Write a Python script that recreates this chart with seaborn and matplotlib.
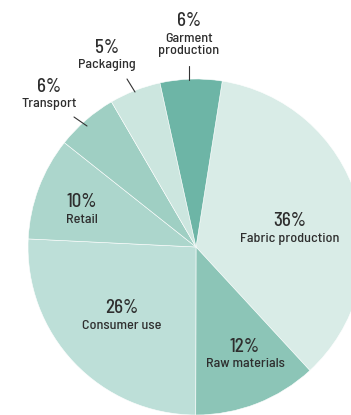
import matplotlib
matplotlib.use("Agg")
import matplotlib.pyplot as plt
import seaborn as sns

sns.set_theme(style="white")
plt.rcParams["font.family"] = ["Barlow Semi Condensed", "DejaVu Sans"]

# Share of emissions by life-cycle stage, listed clockwise from the top
stages = ["Fabric production", "Raw materials", "Consumer use", "Retail",
          "Transport", "Packaging", "Garment\nproduction"]
shares = [36, 12, 26, 10, 6, 5, 6]
colors = ["#d9ece7", "#8cc5b7", "#bddfd8", "#acd6cc",
          "#9fcfc3", "#cce6df", "#6db5a6"]

W, H = 351, 415
fig = plt.figure(figsize=(W / 100, H / 100), dpi=100)
ax = fig.add_axes([0, 0, 1, 1])
ax.set_aspect("equal")
ax.axis("off")

cx, cy, R = 196, 247, 168
# drawn in a y-down frame, so a counter-clockwise pie appears clockwise
wedges, _ = ax.pie(shares, colors=colors, center=(cx, cy), radius=R,
                   startangle=-81, counterclock=True, normalize=True,
                   wedgeprops=dict(edgecolor="white", linewidth=0.4))
ax.set_xlim(0, W)
ax.set_ylim(H, 0)

txt = "#2e2e2e"
# (percent position, label position) for each stage
layout = [((290, 221), (290, 239)),
          ((245, 347), (245, 364)),
          ((122, 308), (122, 326)),
          ((82, 202), (82, 220)),
          ((49, 87), (49, 104)),
          ((107, 48), (107, 65)),
          ((189, 21), (189, 45))]
for name, val, (p, l) in zip(stages, shares, layout):
    ax.text(*p, f"{val}%", ha="center", va="center", fontsize=13.5,
            fontweight=500, color=txt)
    ax.text(*l, name, ha="center", va="center", fontsize=10.2,
            fontweight=500, color=txt, linespacing=0.95)

# leader lines for the small outer slices
for (x0, y0), (x1, y1) in [((189, 66), (189, 80)),
                           ((127, 79), (135, 92)),
                           ((74, 117), (87, 126))]:
    ax.plot([x0, x1], [y0, y1], color="#333333", lw=0.8)

fig.savefig("out.png", dpi=100)
